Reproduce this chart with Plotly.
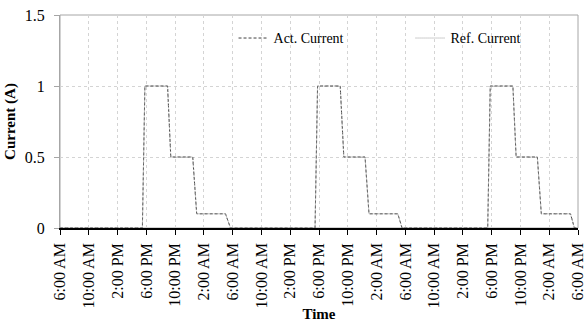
import plotly.graph_objects as go

# hours after 6:00 AM of day 1
time_hours = [0, 11.45, 11.8, 14.95, 15.4, 18.45, 19.0, 23.0, 23.7,
              35.45, 35.8, 38.95, 39.45, 42.4, 42.95, 46.95, 47.55,
              59.45, 59.8, 62.95, 63.4, 66.35, 66.9, 70.95, 71.5, 72]
act_current = [0, 0, 1, 1, 0.5, 0.5, 0.1, 0.1, 0,
               0, 1, 1, 0.5, 0.5, 0.1, 0.1, 0,
               0, 1, 1, 0.5, 0.5, 0.1, 0.1, 0, 0]
ref_current = [0, 0, 1, 1, 0.5, 0.5, 0.1, 0.1, 0,
               0, 1, 1, 0.5, 0.5, 0.1, 0.1, 0,
               0, 1, 1, 0.5, 0.5, 0.1, 0.1, 0, 0]

tick_vals = list(range(0, 73, 4))
tick_text = ["6:00 AM", "10:00 AM", "2:00 PM", "6:00 PM", "10:00 PM", "2:00 AM"] * 3 + ["6:00 AM"]

FONT = "Liberation Serif"

fig = go.Figure()
fig.add_trace(go.Scatter(x=time_hours, y=act_current, mode="lines", name="Act. Current",
                         line=dict(color="#404040", width=1, dash="3px,2px")))
fig.add_trace(go.Scatter(x=time_hours, y=ref_current, mode="lines", name="Ref. Current",
                         line=dict(color="#9a9a9a", width=1, dash="1px,1px")))

fig.update_layout(
    width=587, height=322,
    margin=dict(l=60, r=9, t=15, b=94, autoexpand=False),
    paper_bgcolor="white", plot_bgcolor="white",
    font=dict(family=FONT, size=16, color="black"),
    showlegend=True,
    legend=dict(orientation="h", x=0.335, y=0.89, xanchor="left", yanchor="middle",
                font=dict(family=FONT, size=14), bgcolor="rgba(0,0,0,0)",
                entrywidth=132, entrywidthmode="pixels"),
    shapes=[dict(type="rect", xref="paper", yref="paper", x0=0, x1=1, y0=0, y1=1,
                 line=dict(color="#a6a6a6", width=1), layer="below")],
)
fig.update_xaxes(
    range=[0, 72], tickmode="array", tickvals=tick_vals, ticktext=tick_text,
    tickangle=-90, ticks="outside", ticklen=5, tickcolor="black",
    tickfont=dict(family=FONT, size=16), ticklabelstandoff=2,
    ticklabeloverflow="allow",
    showline=True, linecolor="black", linewidth=1.5,
    showgrid=True, gridcolor="#d4d4d4", griddash="dot", gridwidth=1,
    zeroline=False, automargin=False,
    title=dict(text="<b>Time</b>", font=dict(family=FONT, size=15), standoff=2),
)
fig.update_yaxes(
    range=[0, 1.5], tickmode="array", tickvals=[0, 0.5, 1, 1.5], ticktext=["0", "0.5", "1", "1.5"],
    ticks="outside", ticklen=5, tickcolor="#a6a6a6",
    tickfont=dict(family=FONT, size=16), ticklabelstandoff=6,
    showline=True, linecolor="#a6a6a6", linewidth=1,
    showgrid=True, gridcolor="#d4d4d4", griddash="dot", gridwidth=1,
    zeroline=False, automargin=False,
    title=dict(text="<b>Current (A)</b>", font=dict(family=FONT, size=15), standoff=5),
)

fig.write_html("out.html")
